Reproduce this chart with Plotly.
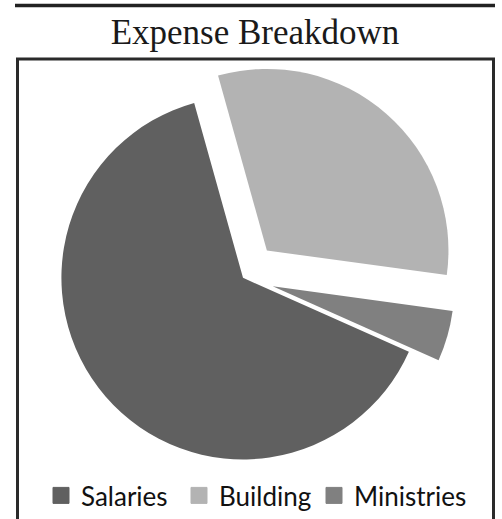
import plotly.graph_objects as go

categories = ["Salaries", "Building", "Ministries"]
values = [64.0, 31.5, 4.5]
colors = ["#606060", "#b3b3b3", "#808080"]
pulls = [0.0, 0.2, 0.17]
legend_widths = [93, 90, None]
title_text = "Expense Breakdown"

W, H = 502, 519

fig = go.Figure()
fig.add_trace(go.Pie(
    labels=categories, values=values, sort=False, direction="clockwise",
    rotation=114, pull=pulls, textinfo="none", hoverinfo="label+percent",
    marker=dict(colors=colors, line=dict(width=0)),
    showlegend=False,
    domain=dict(x=[23.4 / W, 462.6 / W], y=[1 - 499.6 / H, 1 - 60.4 / H]),
))
for name, col, lw in zip(categories, colors, legend_widths):
    kw = dict(legendwidth=lw) if lw else {}
    fig.add_trace(go.Scatter(
        x=[None], y=[None], mode="markers", name=name,
        marker=dict(symbol="square", size=16, color=col, line=dict(color=col, width=1)),
        **kw,
    ))

fig.update_layout(
    width=W, height=H, margin=dict(l=0, r=0, t=0, b=0),
    paper_bgcolor="white", plot_bgcolor="white",
    xaxis=dict(visible=False), yaxis=dict(visible=False),
    title=dict(text=title_text, x=255 / W, xanchor="center", y=1 - 32 / H, yanchor="middle",
               font=dict(family="Liberation Serif", size=35, color="#1a1a1a")),
    legend=dict(orientation="h", x=41 / W, xanchor="left", y=1 - 499.5 / H, yanchor="middle",
                bgcolor="rgba(0,0,0,0)", font=dict(family="Lato", size=26, color="#111111"),
                itemclick=False),
    shapes=[
        dict(type="line", xref="paper", yref="paper", x0=15 / W, x1=495 / W,
             y0=1 - 5.5 / H, y1=1 - 5.5 / H, line=dict(color="#222222", width=3.5)),
        dict(type="rect", xref="paper", yref="paper", x0=17.5 / W, x1=493.5 / W,
             y0=-0.05, y1=1 - 59.5 / H, line=dict(color="#2a2a2a", width=3)),
    ],
)

fig.write_html("out.html", post_script="document.body.style.margin='0';",
               config={"displayModeBar": False})
